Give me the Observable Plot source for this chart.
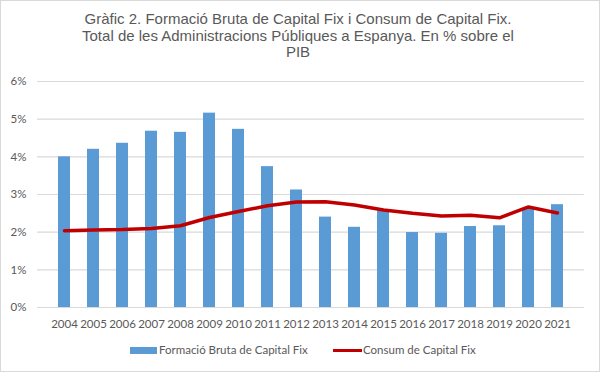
<!DOCTYPE html>
<html>
<head>
<meta charset="utf-8">
<script src="https://cdn.jsdelivr.net/npm/d3@7"></script>
<script src="https://cdn.jsdelivr.net/npm/@observablehq/plot@0.6"></script>
<style>
  html, body { margin: 0; padding: 0; background: #fff; }
  #chart { position: relative; width: 600px; height: 372px; background: #fff; overflow: hidden; }
  #frame { position: absolute; left: 0; top: 0; width: 600px; height: 372px; box-sizing: border-box; border: 1px solid #d9d9d9; pointer-events: none; }
  #title { position: absolute; left: 0; top: 11px; width: 596px; text-align: center; font-family: "Liberation Sans", Arial, sans-serif; font-size: 15px; line-height: 16.5px; color: #595959; }
  #plot { position: absolute; left: 0; top: 62px; }
  #legend { position: absolute; left: 0; top: 342px; width: 600px; height: 16px; font-family: Lato, "Liberation Sans", sans-serif; font-size: 11.5px; color: #595959; }
  .item { position: absolute; top: 0; height: 16px; line-height: 16px; white-space: nowrap; }
  .sw { position: absolute; }
</style>
</head>
<body>
<div id="chart">
  <div id="title">Gràfic 2. Formació Bruta de Capital Fix i Consum de Capital Fix.<br>Total de les Administracions Públiques a Espanya. En % sobre el<br>PIB</div>
  <div id="plot"></div>
  <div id="legend"></div>
  <div id="frame"></div>
</div>
<script>
const years = ["2004","2005","2006","2007","2008","2009","2010","2011","2012","2013","2014","2015","2016","2017","2018","2019","2020","2021"];
const fbcf = [4.00, 4.20, 4.36, 4.68, 4.65, 5.16, 4.73, 3.74, 3.12, 2.40, 2.13, 2.57, 1.99, 1.97, 2.15, 2.17, 2.63, 2.73];
const consum = [2.04, 2.06, 2.07, 2.10, 2.17, 2.39, 2.55, 2.70, 2.80, 2.81, 2.72, 2.59, 2.50, 2.43, 2.45, 2.38, 2.67, 2.51];
const yTicks = [0, 1, 2, 3, 4, 5, 6];
const seriesNames = ["Formació Bruta de Capital Fix", "Consum de Capital Fix"];
const colors = ["#5B9BD5", "#C00000"];

const barData = years.map((y, i) => ({year: y, value: fbcf[i]}));
const lineData = years.map((y, i) => ({year: y, value: consum[i]}));

const chart = Plot.plot({
  width: 600,
  height: 275,
  marginTop: 19,
  marginBottom: 30,
  marginLeft: 37,
  marginRight: 16,
  style: {fontFamily: "Lato, 'Liberation Sans', sans-serif", fontSize: "11.5px", color: "#595959", background: "transparent"},
  x: {type: "band", domain: years, padding: 0.6, label: null, tickSize: 0, tickPadding: 12},
  y: {domain: [0, 6], ticks: yTicks, tickFormat: d => d + "%", label: null, tickSize: 0, tickPadding: 11},
  marks: [
    Plot.gridY(yTicks, {stroke: "#d9d9d9", strokeOpacity: 1, strokeWidth: 1.2}),
    Plot.barY(barData, {x: "year", y: "value", fill: colors[0]}),
    Plot.line(lineData, {x: "year", y: "value", stroke: colors[1], strokeWidth: 3.5, strokeLinejoin: "round", strokeLinecap: "round"})
  ]
});
document.getElementById("plot").appendChild(chart);

const legend = document.getElementById("legend");
legend.innerHTML = `
  <div class="sw" style="left:130px;top:5px;width:27px;height:7px;background:${colors[0]}"></div>
  <div class="item" style="left:159px">${seriesNames[0]}</div>
  <div class="sw" style="left:333px;top:7px;width:29px;height:3px;background:${colors[1]}"></div>
  <div class="item" style="left:363px">${seriesNames[1]}</div>`;
</script>
</body>
</html>
